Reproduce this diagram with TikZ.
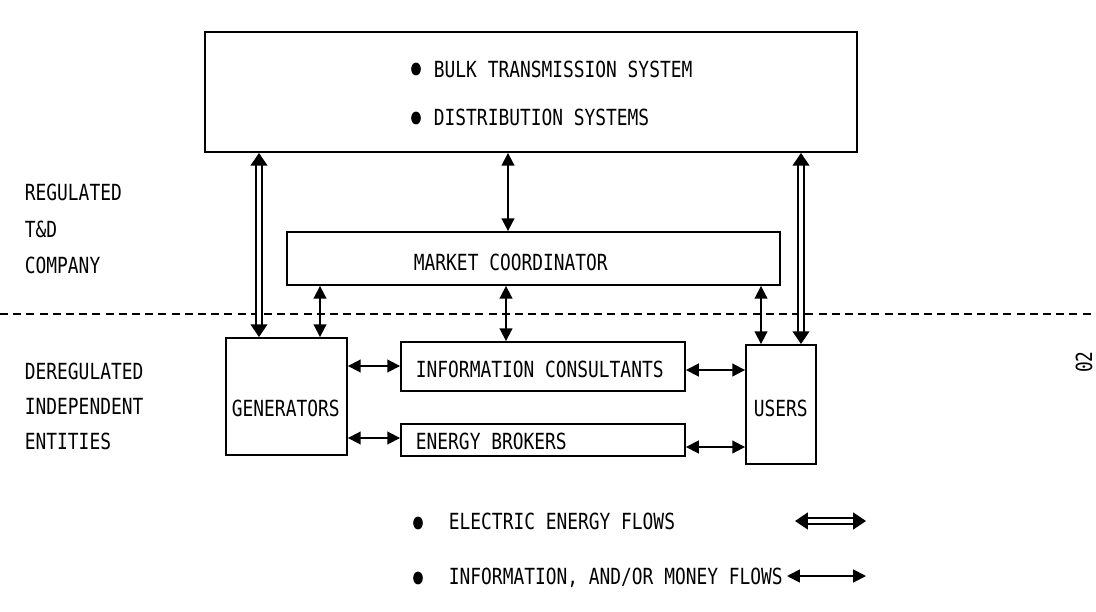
\documentclass[tikz,border=0pt]{standalone}
\usepackage{fontspec}
\setmonofont[FakeStretch=0.805]{DejaVu Sans Mono}
\usetikzlibrary{arrows.meta,shapes.geometric}

\begin{document}
\begin{tikzpicture}[x=0.025cm,y=-0.025cm,line width=1.3pt,
   every node/.style={font=\ttfamily\fontsize{15.8}{18}\selectfont},
   box/.style={draw,rectangle,inner sep=0pt},
   txt/.style={anchor=base west,inner sep=0pt},
   blob/.style={ellipse,fill,inner sep=0pt,minimum width=0.24cm,minimum height=0.32cm},
   money/.style={{Triangle[length=0.32cm,width=0.32cm]}-{Triangle[length=0.32cm,width=0.32cm]}},
   energy/.style={double,double distance=0.12cm,line width=1.2pt,
      {Triangle[length=0.32cm,width=0.42cm]}-{Triangle[length=0.32cm,width=0.42cm]}}]
   \useasboundingbox (0,0) rectangle (1096,611);
   % boxes
   \node (bulk) at (531,92) [box,minimum width=16.3cm,minimum height=3.0cm] {};
   \node (coord) at (533.5,258.5) [box,minimum width=12.325cm,minimum height=1.325cm] {};
   \node (gen) at (286.5,396.5) [box,minimum width=3.025cm,minimum height=2.925cm] {};
   \node (info) at (543,366.5) [box,minimum width=7.1cm,minimum height=1.225cm] {};
   \node (broker) at (543,440) [box,minimum width=7.1cm,minimum height=0.8cm] {};
   \node (users) at (781,404.5) [box,minimum width=1.75cm,minimum height=2.975cm] {};
   % texts
   \node (bulkdot1) at (416,69) [blob] {};
   \node (bulkdot2) at (416,118) [blob] {};
   \node (bulktxt1) at (433,77) [txt] {BULK TRANSMISSION SYSTEM};
   \node (bulktxt2) at (433,126) [txt] {DISTRIBUTION SYSTEMS};
   \node (coordtxt) at (413,270) [txt] {MARKET COORDINATOR};
   \node (gentxt) at (231,416) [txt] {GENERATORS};
   \node (infotxt) at (415,377) [txt] {INFORMATION CONSULTANTS};
   \node (brokertxt) at (415,449) [txt] {ENERGY BROKERS};
   \node (userstxt) at (753,416) [txt] {USERS};
   \node (reg1) at (24,200) [txt] {REGULATED};
   \node (reg2) at (24,237) [txt] {T\&D};
   \node (reg3) at (24,273) [txt] {COMPANY};
   \node (dereg1) at (24,379) [txt] {DEREGULATED};
   \node (dereg2) at (24,414) [txt] {INDEPENDENT};
   \node (dereg3) at (24,449) [txt] {ENTITIES};
   \node (figno) at (1084,362) [rotate=90,inner sep=0pt] {02};
   % boundary
   \coordinate (lineL) at (0,314);
   \coordinate (lineR) at (1096,314);
   \draw[dash pattern=on 0.2cm off 0.13cm] (lineL) -- (lineR);
   % energy flows
   \coordinate (eL) at (259,0);
   \coordinate (eR) at (801,0);
   \draw[energy] (eL |- bulk.south) -- (eL |- gen.north);
   \draw[energy] (eR |- bulk.south) -- (eR |- users.north);
   % information / money flows
   \coordinate (mA) at (508,0);
   \coordinate (mB) at (320,0);
   \coordinate (mC) at (506,0);
   \coordinate (mD) at (761,0);
   \draw[money] (mA |- bulk.south) -- (mA |- coord.north);
   \draw[money] (mB |- coord.south) -- (mB |- gen.north);
   \draw[money] (mC |- coord.south) -- (mC |- info.north);
   \draw[money] (mD |- coord.south) -- (mD |- users.north);
   \coordinate (h1) at (0,366);
   \coordinate (h2) at (0,370);
   \coordinate (h3) at (0,438);
   \coordinate (h4) at (0,447);
   \draw[money] (h1 -| gen.east) -- (h1 -| info.west);
   \draw[money] (h2 -| info.east) -- (h2 -| users.west);
   \draw[money] (h3 -| gen.east) -- (h3 -| broker.west);
   \draw[money] (h4 -| broker.east) -- (h4 -| users.west);
   % legend
   \node (legdot1) at (418,523) [blob] {};
   \node (legdot2) at (418,578) [blob] {};
   \node (legtxt1) at (448,529) [txt] {ELECTRIC ENERGY FLOWS};
   \node (legtxt2) at (448,584) [txt] {INFORMATION, AND/OR MONEY FLOWS};
   \coordinate (legE1) at (795,521);
   \coordinate (legE2) at (866,521);
   \coordinate (legM1) at (787,576);
   \coordinate (legM2) at (866,576);
   \draw[energy] (legE1) -- (legE2);
   \draw[money] (legM1) -- (legM2);
\end{tikzpicture}
\end{document}
